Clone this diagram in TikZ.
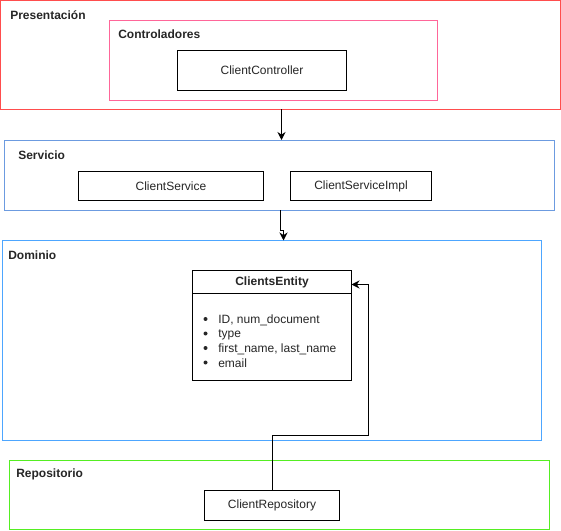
\documentclass[tikz,border=0pt]{standalone}
\usepackage{fontspec}
\setmainfont{Liberation Sans}
\usetikzlibrary{fit,arrows.meta,calc}
\definecolor{cpres}{HTML}{FF4D4D}
\definecolor{cctrl}{HTML}{FF6699}
\definecolor{cserv}{HTML}{6C9BE0}
\definecolor{cdom}{HTML}{4DA6FF}
\definecolor{crepo}{HTML}{55EE22}
\begin{document}
\begin{tikzpicture}[x=0.75pt,y=-0.75pt,
  every node/.style={font=\fontsize{9pt}{11pt}\selectfont, text=black!85},
  region/.style={draw, line width=0.75pt, inner sep=0pt},
  box/.style={draw=black, line width=0.75pt, inner sep=0pt, fill=white},
  lbl/.style={anchor=west, inner sep=0pt, font=\fontsize{9pt}{11pt}\selectfont\bfseries},
  item/.style={anchor=west, inner sep=0pt},
  dot/.style={circle, fill=black!85, inner sep=0pt, minimum size=3pt},
  arr/.style={draw=black, line width=0.75pt, -{Stealth[length=6pt,width=6pt,inset=2pt]}}]
\useasboundingbox (0,0) rectangle (561,531);
% regions
\node[region, draw=cpres, fit={(0.5,0.5) (560.5,109.5)}] (pres) {};
\node[lbl] (presl) at (10,15) {Presentación};
\node[region, draw=cctrl, fit={(109.5,20.5) (437.5,100.5)}] (ctrl) {};
\node[lbl] (ctrll) at (118,34) {Controladores};
\node[box, fit={(177.5,50.5) (346.5,90.5)}] (cc) {};
\node (cct) at (cc.center) {ClientController};

\node[region, draw=cserv, fit={(4.5,140.5) (554.5,210.5)}] (serv) {};
\node[lbl] (servl) at (18,155) {Servicio};
\node[box, fit={(78.5,171.5) (263.5,200.5)}] (cs) {};
\node (cst) at (cs.center) {ClientService};
\node[box, fit={(290.5,171.5) (431.5,200.5)}] (csi) {};
\node (csit) at (csi.center) {ClientServiceImpl};

\node[region, draw=cdom, fit={(2.5,240.5) (541.5,440.5)}] (dom) {};
\node[lbl] (doml) at (8,255) {Dominio};
\node[box, fit={(192.5,293.5) (351.5,380.5)}] (ceb) {};
\node[box, fit={(192.5,270.5) (351.5,293.5)}] (ceh) {};
\node[font=\fontsize{9pt}{11pt}\selectfont\bfseries] (ceht) at (ceh.center) {ClientsEntity};
\node[dot] (b1) at (205.5,319) {};
\node[item] (t1) at (218,320) {ID, num\_document};
\node[dot] (b2) at (205.5,333.5) {};
\node[item] (t2) at (218,334.5) {type};
\node[dot] (b3) at (205.5,348) {};
\node[item] (t3) at (218,349) {first\_name, last\_name};
\node[dot] (b4) at (205.5,362.5) {};
\node[item] (t4) at (218,363.5) {email};

\node[region, draw=crepo, fit={(9.5,460.5) (549.5,529.5)}] (repo) {};
\node[lbl] (repol) at (16,474) {Repositorio};
\node[box, fit={(204.5,490.5) (339.5,520.5)}] (cr) {};
\node (crt) at (cr.center) {ClientRepository};

% connectors
\coordinate (p1) at (281.5,109.5);
\draw[arr] (p1) -- (p1 |- serv.north);
\coordinate (p2) at (280.5,210.5);
\coordinate (d2) at (283.5,240.5);
\draw[arr] (p2) -- ++(0,20) -| (d2);
\coordinate (k) at (368.5,435.5);
\coordinate (ke) at (351.5,284.5);
\draw[arr] ([xshift=0.375pt]cr.north) |- (k) |- (ke);
\end{tikzpicture}
\end{document}
